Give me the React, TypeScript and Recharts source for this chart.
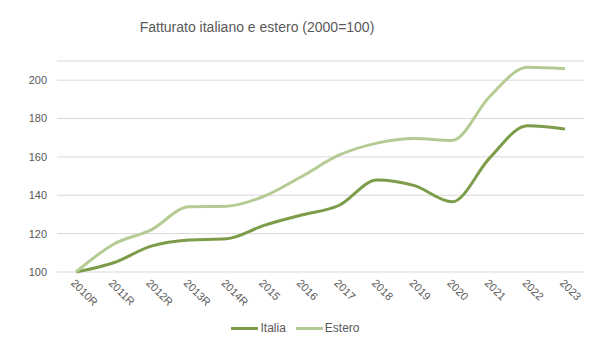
import React from 'react';
import { LineChart, Line, XAxis, YAxis, CartesianGrid } from 'recharts';

const years = ['2010R', '2011R', '2012R', '2013R', '2014R', '2015', '2016', '2017', '2018', '2019', '2020', '2021', '2022', '2023'];
const italia = [100, 104.8, 113.5, 116.7, 117.3, 124.3, 129.7, 134.8, 148, 145, 136.6, 159.5, 176.3, 174.6];
const estero = [100, 114.5, 122, 134, 134.3, 139.5, 149.8, 161, 167.2, 169.6, 168.6, 191.5, 206.8, 206];
const yTicks = [100, 120, 140, 160, 180, 200];

const ITALIA_COLOR = '#7d9c4a';
const ESTERO_COLOR = '#b4cc94';
const FONT = '"Liberation Sans", Arial, sans-serif';

const data = years.map((year, i) => ({ year, italia: italia[i], estero: estero[i] }));

const YearTick = (props: any) => {
  const { x, y, payload } = props;
  return (
    <g transform={`translate(${x - 3},${y + 1}) rotate(45)`}>
      <text x={0} y={0} dy="0.35em" textAnchor="start" fill="#595959" fontSize={11} fontFamily={FONT}>
        {payload.value}
      </text>
    </g>
  );
};

const legendItems = [
  { name: 'Italia', color: ITALIA_COLOR },
  { name: 'Estero', color: ESTERO_COLOR },
];

export default function App() {
  return (
    <div style={{ position: 'absolute', left: 0, top: 0, width: 601, height: 352, background: 'white' }}>
      <div style={{
        position: 'absolute',
        left: 0,
        width: 514,
        top: 19,
        textAlign: 'center',
        fontFamily: FONT,
        fontSize: 14,
        color: '#595959'
      }}>
        Fatturato italiano e estero (2000=100)
      </div>
      <LineChart width={601} height={352} data={data} margin={{ top: 61, right: 17, left: 0, bottom: 50 }}>
        <CartesianGrid vertical={false} stroke="#d9d9d9" />
        <XAxis
          dataKey="year"
          axisLine={false}
          tickLine={false}
          interval={0}
          height={30}
          padding={{ left: 19, right: 19 }}
          tick={<YearTick />}
        />
        <YAxis
          domain={[100, 210]}
          ticks={yTicks}
          axisLine={false}
          tickLine={false}
          width={57}
          tickMargin={4}
          tick={{ fill: '#595959', fontSize: 11, fontFamily: FONT }}
        />
        <Line type="monotone" dataKey="italia" name="Italia" stroke={ITALIA_COLOR} strokeWidth={3} dot={false} isAnimationActive={false} />
        <Line type="monotone" dataKey="estero" name="Estero" stroke={ESTERO_COLOR} strokeWidth={3} dot={false} isAnimationActive={false} />
      </LineChart>
      <div style={{
        position: 'absolute',
        left: 0,
        width: 601,
        top: 321,
        display: 'flex',
        justifyContent: 'center',
        alignItems: 'center',
        fontFamily: FONT,
        fontSize: 12,
        color: '#595959'
      }}>
        {legendItems.map(item => (
          <div key={item.name} style={{ display: 'flex', alignItems: 'center', marginRight: 10 }}>
            <span style={{ display: 'inline-block', width: 27, height: 3, background: item.color, marginRight: 2 }} />
            <span>{item.name}</span>
          </div>
        ))}
      </div>
    </div>
  );
}
